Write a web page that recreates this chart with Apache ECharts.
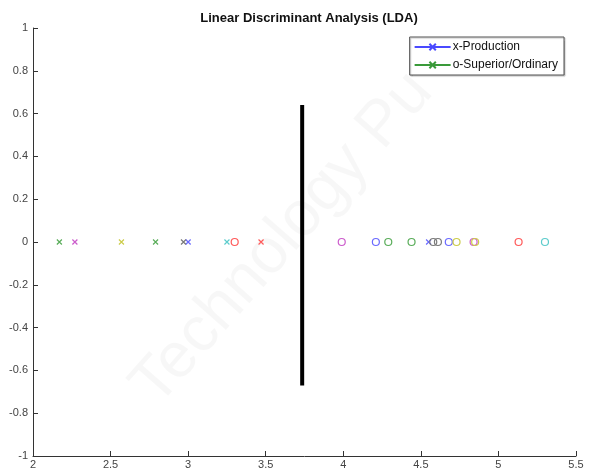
<html>
<head>
<meta charset="utf-8">
<title>LDA</title>
</head>
<body style="margin:0">
<div id="main" style="width:590px;height:470px;"></div>
<script src="https://cdn.jsdelivr.net/npm/echarts@6/dist/echarts.min.js"></script>
<script>
// projected values on the LDA axis (all drawn at y = 0)
var crossValues = [2.17, 2.27, 2.57, 2.79, 2.97, 3.00, 3.25, 3.47, 4.55];
var crossClass  = ['g',  'm',  'y',  'g',  'k',  'b',  'c',  'r',  'b'];
var circleValues = [3.30, 3.99, 4.21, 4.29, 4.44, 4.58, 4.61, 4.68, 4.73, 4.84, 4.85, 5.13, 5.30];
var circleClass  = ['r',  'm',  'b',  'g',  'g',  'k',  'k',  'b',  'y',  'm',  'y',  'r',  'c'];
var boundaryX = 3.735;
var boundaryY = [0.64, -0.67];
var legendNames = ['x-Production', 'o-Superior/Ordinary'];

var colors = {
  b: '#6a6aff', g: '#5aad5a', r: '#ff5a5a', c: '#5ccccc',
  m: '#cc5ccc', y: '#cccc4a', k: '#7a7a7a'
};
var crossPath = 'path://M0,0L10,10M10,0L0,10';

var chart = echarts.init(document.getElementById('main'));

var series = [];
// legend-only series
series.push({
  name: legendNames[0], type: 'line', data: [],
  symbol: crossPath, symbolSize: 3,
  lineStyle: {color: '#4a4aff', width: 1},
  itemStyle: {color: 'none', borderColor: '#4a4aff', borderWidth: 0.8}
});
series.push({
  name: legendNames[1], type: 'line', data: [],
  symbol: crossPath, symbolSize: 3,
  lineStyle: {color: '#3a9a3a', width: 1},
  itemStyle: {color: 'none', borderColor: '#3a9a3a', borderWidth: 0.8}
});

Object.keys(colors).forEach(function (k) {
  var cross = [], circ = [];
  crossValues.forEach(function (v, i) { if (crossClass[i] === k) cross.push([v, 0]); });
  circleValues.forEach(function (v, i) { if (circleClass[i] === k) circ.push([v, 0]); });
  if (cross.length) series.push({
    name: 'cross-' + k, type: 'scatter', data: cross,
    symbol: crossPath, symbolSize: 5, silent: true,
    itemStyle: {color: 'none', borderColor: colors[k], borderWidth: 1.2, opacity: 1}
  });
  if (circ.length) series.push({
    name: 'circle-' + k, type: 'scatter', data: circ,
    symbol: 'circle', symbolSize: 7, silent: true,
    itemStyle: {color: 'none', borderColor: colors[k], borderWidth: 1.2, opacity: 1}
  });
});

series.push({
  name: 'boundary', type: 'line', silent: true,
  data: [[boundaryX, boundaryY[0]], [boundaryX, boundaryY[1]]],
  symbol: 'none',
  lineStyle: {color: '#000', width: 4, cap: 'butt'}
});

var option = {
  animation: false,
  backgroundColor: '#fff',
  title: {
    text: 'Linear Discriminant Analysis (LDA)',
    left: 304, top: 7, textAlign: 'center',
    textStyle: {fontFamily: 'Liberation Sans, Arial', fontSize: 13, fontWeight: 'bold', color: '#111'}
  },
  legend: {
    data: legendNames,
    orient: 'vertical',
    right: 26, top: 37,
    itemWidth: 36, itemHeight: 8, itemGap: 6,
    padding: [4, 6, 4, 4],
    backgroundColor: '#fff',
    borderColor: '#555', borderWidth: 1,
    shadowColor: 'rgba(0,0,0,0.25)', shadowOffsetX: 1, shadowOffsetY: 1, shadowBlur: 1,
    textStyle: {fontFamily: 'Liberation Sans, Arial', fontSize: 12, color: '#111', padding: [0, 0, 0, -3]}
  },
  graphic: [{
    type: 'text', left: 120, top: 60, rotation: 0.85, silent: true, z: -10,
    style: {text: 'Technology Pu', fontSize: 64, fontFamily: 'Liberation Sans, Arial',
            fill: 'rgba(0,0,0,0.03)'}
  }],
  grid: {left: 33, right: 14, top: 28, bottom: 14},
  xAxis: {
    type: 'value', min: 2, max: 5.5, interval: 0.5,
    axisLine: {onZero: false, lineStyle: {color: '#333'}},
    axisTick: {inside: true, length: 5, lineStyle: {color: '#333'}},
    axisLabel: {fontFamily: 'Liberation Sans, Arial', fontSize: 11, color: '#444', margin: 3},
    splitLine: {show: false}
  },
  yAxis: {
    type: 'value', min: -1, max: 1, interval: 0.2,
    axisLine: {show: true, lineStyle: {color: '#333'}},
    axisTick: {show: true, inside: true, length: 5, lineStyle: {color: '#333'}},
    axisLabel: {fontFamily: 'Liberation Sans, Arial', fontSize: 11, color: '#444', margin: 5,
      formatter: function (v) { return String(Math.round(v * 10) / 10); }},
    splitLine: {show: false}
  },
  series: series
};

chart.setOption(option);
</script>
</body>
</html>
